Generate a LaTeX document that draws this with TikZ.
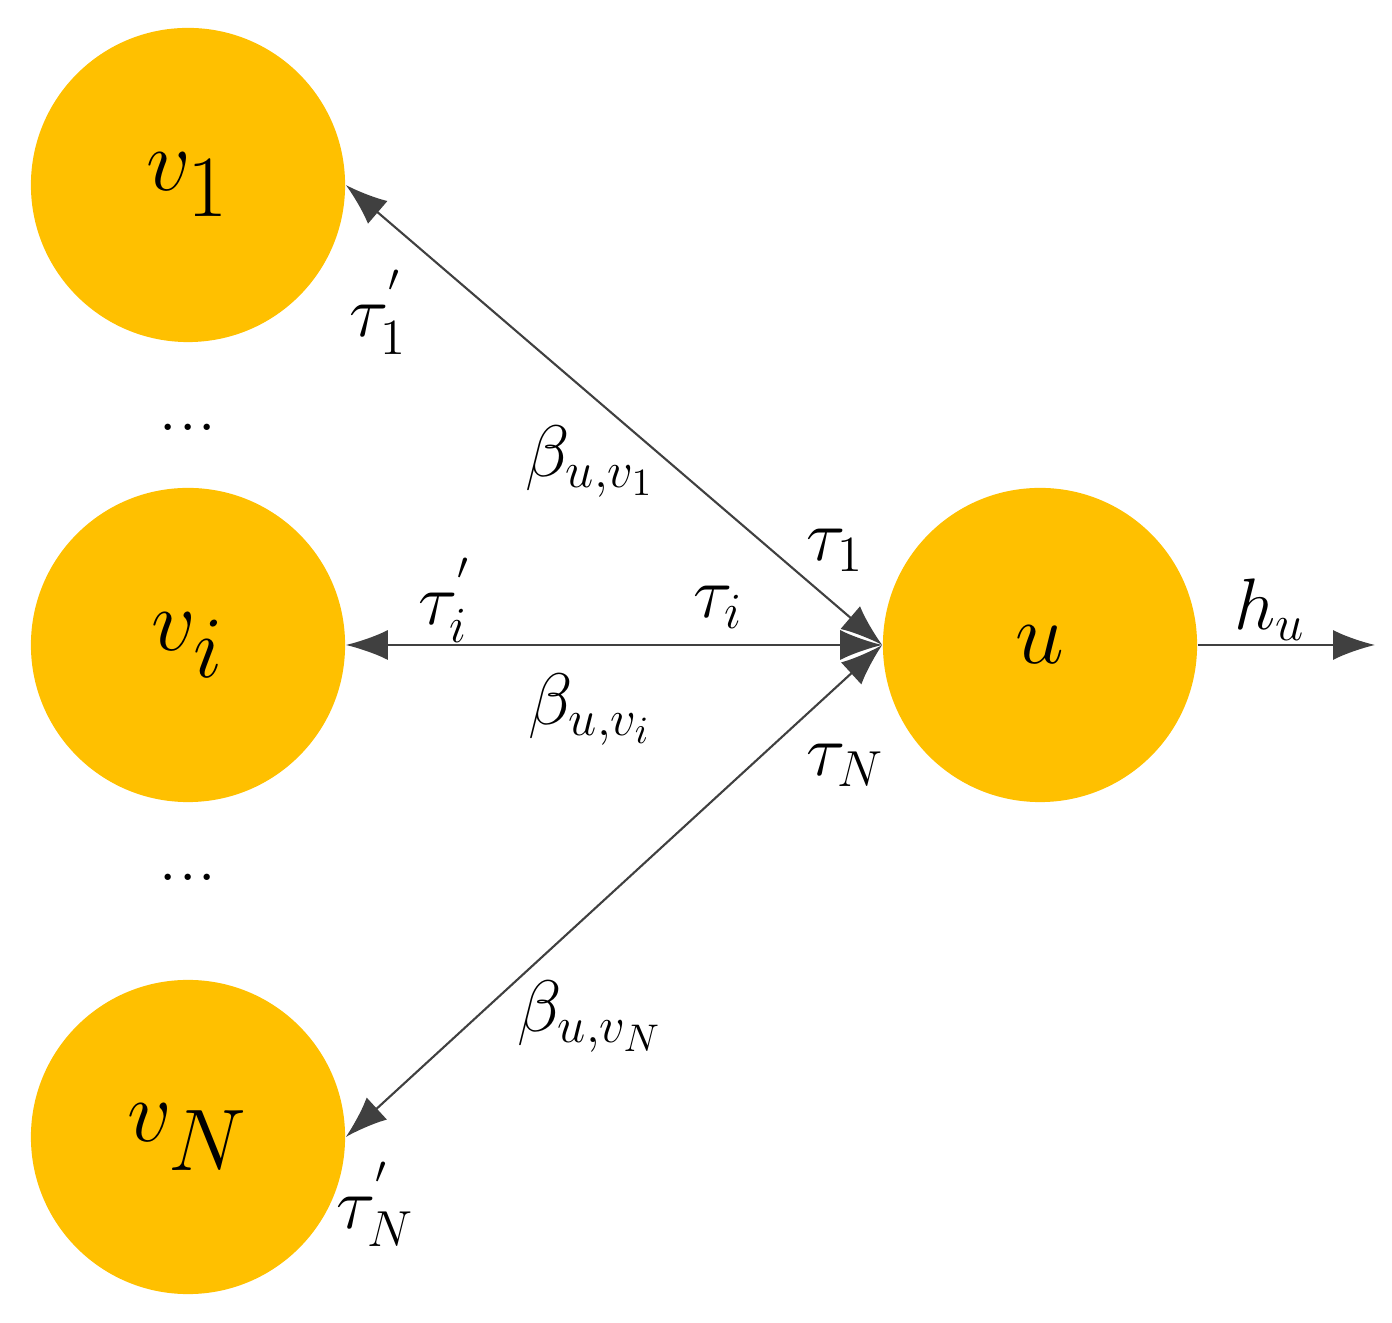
\documentclass[tikz,border=0pt]{standalone}
\usetikzlibrary{arrows.meta}
\definecolor{nodeyellow}{HTML}{FFC000}
\definecolor{edgegray}{HTML}{404040}
\tikzset{
  vert/.style={circle,fill=nodeyellow,minimum size=3.14cm,inner sep=0pt,font=\fontsize{44}{50}\selectfont},
  edge/.style={edgegray,line width=0.6pt,{Latex[length=0.42cm,width=0.3cm]}-{Latex[length=0.42cm,width=0.3cm]}},
  lbl/.style={font=\fontsize{22}{26}\selectfont}
}
\begin{document}
\begin{tikzpicture}[x=0.01cm,y=0.01cm]
		\useasboundingbox (0,0) rectangle (1392,1322);
		
		
		\node[vert] (v1) at (188,1137) {$v_1$};
		\node[vert] (vi) at (188,677) {$v_i$};
		\node[vert] (vN) at (188,185) {$v_N$};
		\node[vert] (u) at (1040,677) {$u$};
		\coordinate (out) at (1375,677);
		
		
		\draw[edge] (v1.east) -- (u.west);
		\draw[edge] (vi.east) -- (u.west);
		\draw[edge] (vN.east) -- (u.west);
		\draw[edgegray,line width=0.6pt,-{Latex[length=0.42cm,width=0.3cm]}] (u.east) -- (out);
		
		
		\node[lbl] (t1p) at (378,1010) {$\tau_1^{'}$};
		\node[lbl] (b1) at (590,860) {$\beta_{u,v_1}$};
		\node[lbl] (t1) at (835,772) {$\tau_1$};
		\node[lbl] (tip) at (445,722) {$\tau_i^{'}$};
		\node[lbl] (ti) at (718,715) {$\tau_i$};
		\node[lbl] (bi) at (590,612) {$\beta_{u,v_i}$};
		\node[lbl] (tN) at (845,557) {$\tau_N$};
		\node[lbl] (bN) at (590,305) {$\beta_{u,v_N}$};
		\node[lbl] (tNp) at (375,118) {$\tau_N^{'}$};
		\node[lbl] (hu) at (1270,712) {$h_u$};
		
		
		\node[lbl] (dots1) at (188,895) {...};
		\node[lbl] (dots2) at (188,445) {...};
		
		
	\end{tikzpicture}
\end{document}
